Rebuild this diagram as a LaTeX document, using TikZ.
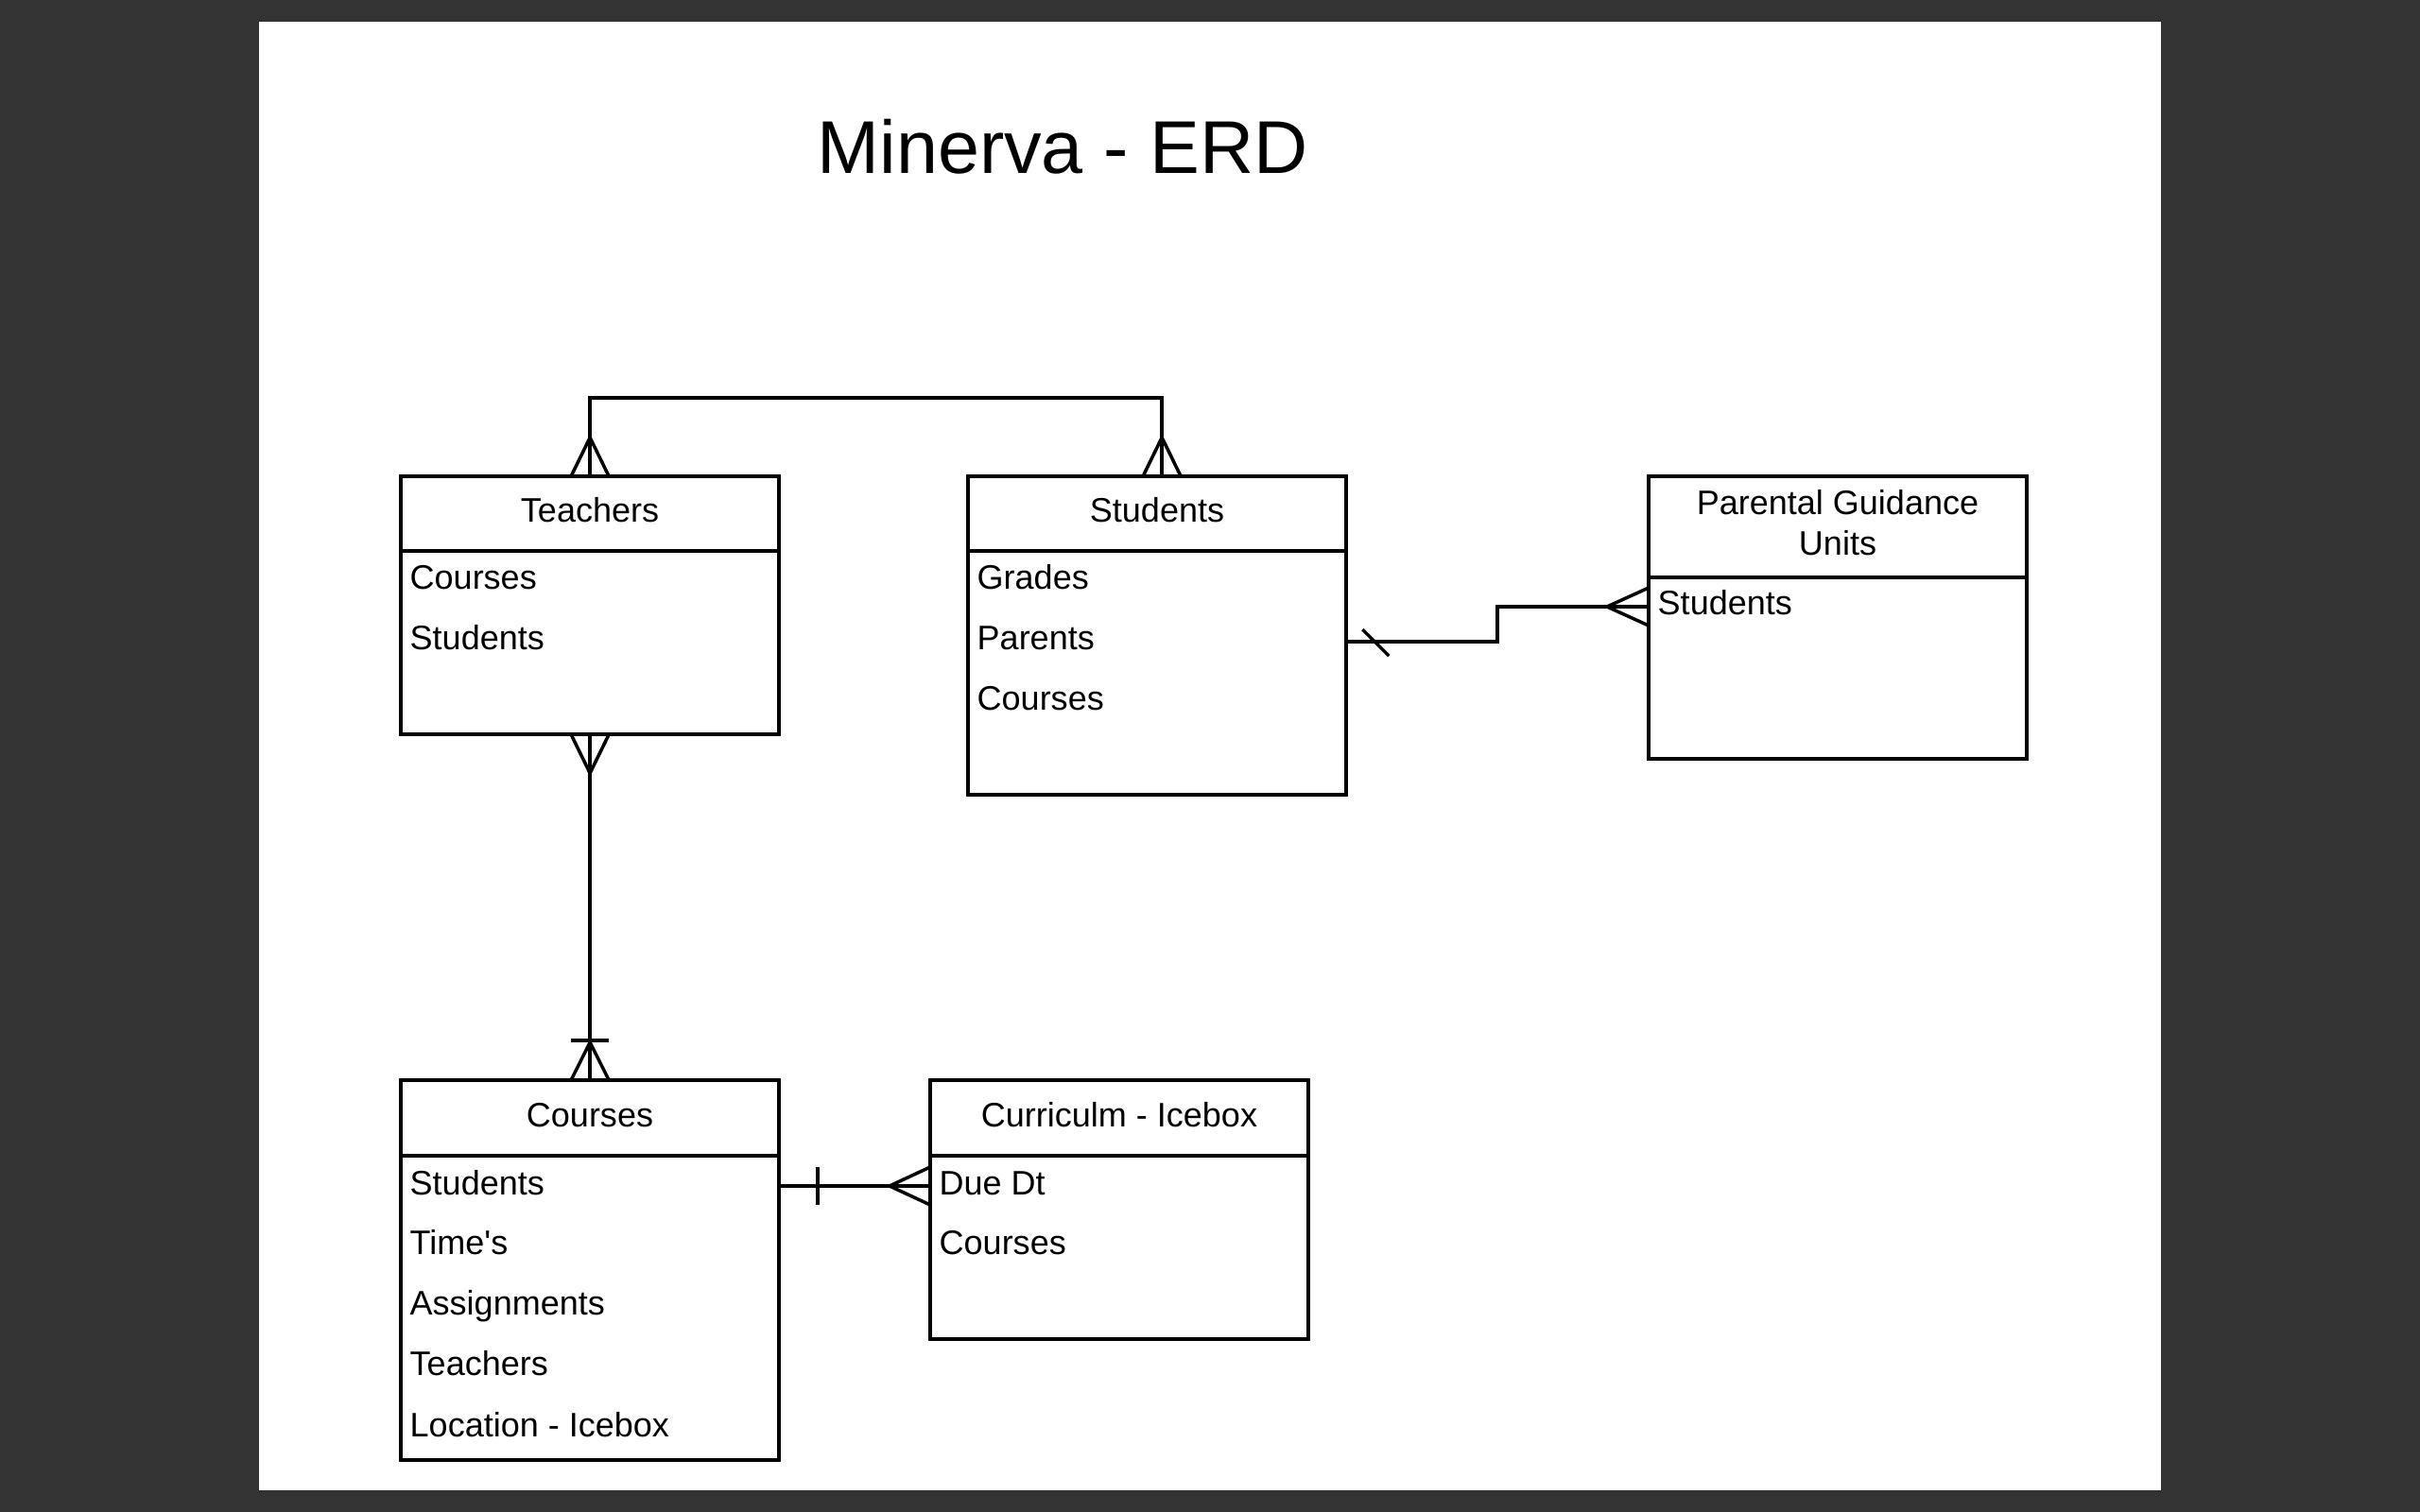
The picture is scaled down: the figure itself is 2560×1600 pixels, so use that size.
\documentclass[tikz,border=0pt]{standalone}
\usepackage{fontspec}
\setmainfont{Liberation Sans}
\usetikzlibrary{calc}
\definecolor{bgdark}{HTML}{333333}
\begin{document}
\begin{tikzpicture}[x=0.01cm,y=-0.01cm,
  ln/.style={line width=1pt, line join=miter},
  ent/.style={draw, line width=1pt, inner sep=0pt, outer sep=0pt, anchor=north west, minimum width=4cm},
  hdr/.style={anchor=base, inner sep=0pt, font=\fontsize{10.24}{12.1}\selectfont},
  attr/.style={anchor=base west, inner sep=0pt, font=\fontsize{10.24}{12.1}\selectfont},
  ttl/.style={anchor=base, inner sep=0pt, font=\fontsize{22.5}{27}\selectfont}]
% background
\fill[bgdark] (0,0) rectangle (2560,1600);
\fill[white] (274,23) rectangle (2286,1577);
\useasboundingbox (0,0) rectangle (2560,1600);
% title
\node[ttl] (title) at (1124,184) {Minerva - ERD};
% entities
\node[ent, minimum height=2.73cm] (teach) at (424,504) {};
\node[ent, minimum height=3.37cm] (stud) at (1024,504) {};
\node[ent, minimum height=2.99cm] (par) at (1744,504) {};
\node[ent, minimum height=4.02cm] (cour) at (424,1143) {};
\node[ent, minimum height=2.74cm] (curr) at (984,1143) {};
% header dividers
\draw[ln] (teach.west |- 0,583) -- (teach.east |- 0,583);
\draw[ln] (stud.west |- 0,583) -- (stud.east |- 0,583);
\draw[ln] (par.west |- 0,611) -- (par.east |- 0,611);
\draw[ln] (cour.west |- 0,1223) -- (cour.east |- 0,1223);
\draw[ln] (curr.west |- 0,1223) -- (curr.east |- 0,1223);
% headers
\node[hdr] (teachH) at (624,552) {Teachers};
\node[hdr] (studH) at (1224,552) {Students};
\node[hdr, anchor=north, align=center] (parH) at (1944,518) {Parental Guidance\\Units};
\node[hdr] (courH) at (624,1192) {Courses};
\node[hdr] (currH) at (1184,1192) {Curriculm - Icebox};
% attributes
\node[attr] (t1) at (433,623) {Courses};
\node[attr] (t2) at (433,687) {Students};
\node[attr] (s1) at (1033,623) {Grades};
\node[attr] (s2) at (1033,687) {Parents};
\node[attr] (s3t) at (1033,751) {Courses};
\node[attr] (p1) at (1753,650) {Students};
\node[attr] (c1) at (433,1264) {Students};
\node[attr] (c2) at (433,1327) {Time\textquotesingle s};
\node[attr] (c3) at (433,1391) {Assignments};
\node[attr] (c4t) at (433,1455) {Teachers};
\node[attr] (c5) at (433,1520) {Location - Icebox};
\node[attr] (u1) at (993,1264) {Due Dt};
\node[attr] (u2) at (993,1327) {Courses};
% connector 1: Teachers -- Students (many to many)
\coordinate (sj) at ($(stud.north)+(5,0)$);
\draw[ln] (teach.north) -- ++(0,-83) -| (sj);
\draw[ln] ($(teach.north)+(-20,0)$) -- ($(teach.north)+(0,-41)$) -- ($(teach.north)+(20,0)$);
\draw[ln] ($(sj)+(-20,0)$) -- ($(sj)+(0,-41)$) -- ($(sj)+(20,0)$);
% connector 2: Teachers -- Courses
\draw[ln] (teach.south) -- (cour.north);
\draw[ln] ($(teach.south)+(-20,0)$) -- ($(teach.south)+(0,41)$) -- ($(teach.south)+(20,0)$);
\draw[ln] ($(cour.north)+(-20,0)$) -- ($(cour.north)+(0,-40)$) -- ($(cour.north)+(20,0)$);
\draw[ln] ($(cour.north)+(-20,-42)$) -- ($(cour.north)+(20,-42)$);
% connector 3: Students -- Parental Guidance Units
\coordinate (sa) at (stud.east |- 0,679);
\coordinate (pa) at (par.west |- 0,642);
\draw[ln] (sa) -- ++(160,0) |- (pa);
\draw[ln] ($(sa)+(17,-13)$) -- ($(sa)+(45,15)$);
\draw[ln] ($(pa)+(0,-20)$) -- ($(pa)+(-44,0)$) -- ($(pa)+(0,20)$);
% connector 4: Courses -- Curriculm
\coordinate (ca) at (cour.east |- 0,1255);
\coordinate (ua) at (curr.west |- 0,1255);
\draw[ln] (ca) -- (ua);
\draw[ln] ($(ca)+(41,-20)$) -- ($(ca)+(41,20)$);
\draw[ln] ($(ua)+(0,-20)$) -- ($(ua)+(-43,0)$) -- ($(ua)+(0,20)$);
\end{tikzpicture}
\end{document}
